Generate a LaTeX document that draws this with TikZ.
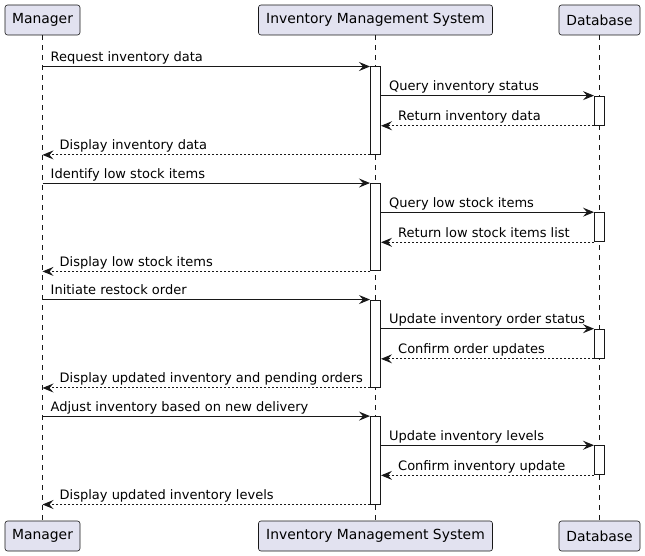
\documentclass[tikz,border=0pt]{standalone}
\usepackage{fontspec}
\setmainfont{DejaVu Sans}
\usetikzlibrary{arrows.meta}
\definecolor{partfill}{HTML}{E2E2F0}
\definecolor{ink}{HTML}{181818}
\begin{document}
\begin{tikzpicture}[x=1pt,y=-1pt,
  part/.style={draw=ink, fill=partfill, rounded corners=2.5pt, line width=0.6pt, minimum height=30pt, inner sep=0pt, font=\fontsize{13.9}{16}\selectfont},
  life/.style={draw=ink, line width=0.6pt, dash pattern=on 5pt off 5pt},
  actbar/.style={draw=ink, fill=white, line width=1pt, minimum width=10pt, inner sep=0pt},
  msg/.style={draw=ink, line width=1pt, -{Stealth[length=11pt,width=9pt,inset=4pt]}},
  ret/.style={msg, dash pattern=on 2pt off 2pt},
  lbl/.style={font=\fontsize{13}{15}\selectfont, inner sep=0pt, anchor=base west, text=black}]
\useasboundingbox (0,0) rectangle (645,556);
% participants
\node[part, minimum width=75pt]  (mgr)  at (42.5,20)  {Manager};
\node[part, minimum width=234pt] (ims)  at (375.5,20) {Inventory Management System};
\node[part, minimum width=81pt]  (db)   at (599.5,20) {Database};
\node[part, minimum width=75pt]  (mgrB) at (42.5,536)  {Manager};
\node[part, minimum width=234pt] (imsB) at (375.5,536) {Inventory Management System};
\node[part, minimum width=81pt]  (dbB)  at (599.5,536) {Database};
% lifelines
\draw[life] (mgr.south) -- (mgrB.north);
\draw[life] (ims.south) -- (imsB.north);
\draw[life] (db.south) -- (dbB.north);
% exchanges
\foreach \k/\ta/\tb/\tc/\td in {
  0/Request inventory data/Query inventory status/Return inventory data/Display inventory data,
  1/Identify low stock items/Query low stock items/Return low stock items list/Display low stock items,
  2/Initiate restock order/Update inventory order status/Confirm order updates/Display updated inventory and pending orders,
  3/Adjust inventory based on new delivery/Update inventory levels/Confirm inventory update/Display updated inventory levels}{
  \pgfmathsetmacro\yy{67+116.533*\k}
  \node[actbar, minimum height=87.4pt] (act\k) at (375.5,\yy+43.7) {};
  \node[actbar, minimum height=29.13pt] (dba\k) at (599.5,\yy+43.7) {};
  \coordinate (ms\k) at (mgr |- act\k.north);
  \coordinate (me\k) at (mgr |- act\k.south);
  \coordinate (ir\k) at (act\k.east |- dba\k.south);
  \coordinate (iq\k) at (act\k.east |- dba\k.north);
  \draw[msg] (ms\k) -- (act\k.north west);
  \node[lbl] at ([xshift=8pt,yshift=5pt]ms\k) {\ta};
  \draw[msg] (iq\k) -- (dba\k.north west);
  \node[lbl] at ([xshift=8pt,yshift=5pt]iq\k) {\tb};
  \draw[ret] (dba\k.south west) -- (ir\k);
  \node[lbl] at ([xshift=17pt,yshift=5pt]ir\k) {\tc};
  \draw[ret] (act\k.south west) -- (me\k);
  \node[lbl] at ([xshift=17pt,yshift=5pt]me\k) {\td};
}
\end{tikzpicture}
\end{document}
